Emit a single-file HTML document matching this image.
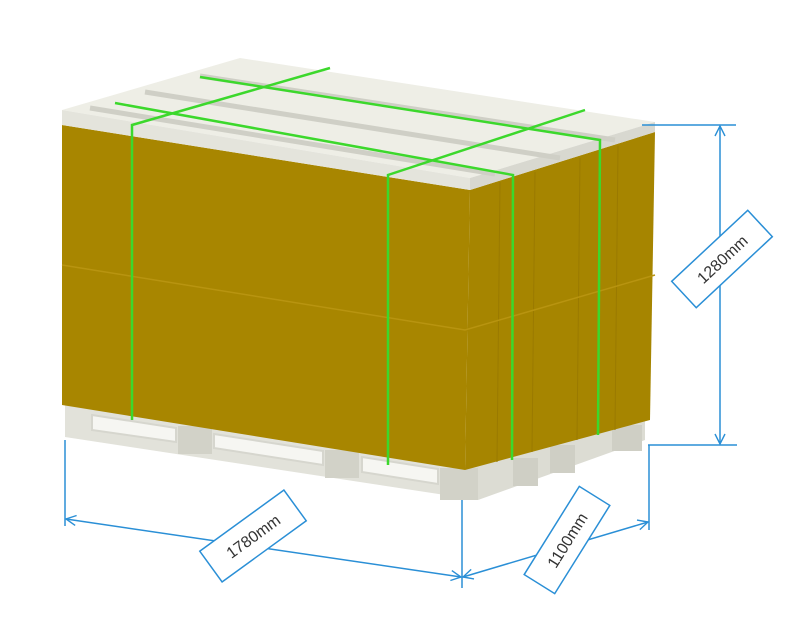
<!DOCTYPE html>
<html><head><meta charset="utf-8"><style>
html,body{margin:0;padding:0;background:#fff;width:800px;height:620px;overflow:hidden}
svg{display:block}
text{font-family:"Liberation Sans",sans-serif;font-size:16px;fill:#333}
</style></head><body>
<svg width="800" height="620" viewBox="0 0 800 620" xmlns="http://www.w3.org/2000/svg">
<defs>
<marker id="a" viewBox="0 0 12 12" refX="11" refY="6" markerWidth="12" markerHeight="12" markerUnits="userSpaceOnUse" orient="auto-start-reverse">
<path d="M1,1 L11,6 L1,11" fill="none" stroke="#2a8fd6" stroke-width="1.4"/></marker>
</defs>
<!-- pallet -->
<polygon points="65,400 465,465 478,470 478,500 65,437" fill="#e2e2da"/>
<polygon points="465,470 645,415 645,440 478,500" fill="#dcdcd3"/>
<polygon points="92,415 176,428 176,442 92,430" fill="#f6f6f2" stroke="#d6d6ce" stroke-width="2"/>
<polygon points="214,434 323,451 323,465 214,448" fill="#f6f6f2" stroke="#d6d6ce" stroke-width="2"/>
<polygon points="362,457 438,469 438,484 362,472" fill="#f6f6f2" stroke="#d6d6ce" stroke-width="2"/>
<rect x="178" y="426" width="34" height="28" fill="#d2d2c8"/>
<rect x="325" y="450" width="34" height="28" fill="#d2d2c8"/>
<rect x="440" y="468" width="38" height="32" fill="#d2d2c8"/>
<rect x="513" y="458" width="25" height="28" fill="#cfcfc5"/>
<rect x="550" y="445" width="25" height="28" fill="#cfcfc5"/>
<rect x="612" y="425" width="30" height="26" fill="#cfcfc5"/>
<!-- box -->
<polygon points="62,125 470,190 465,470 62,405" fill="#a88600"/>
<polygon points="470,190 655,132 650,420 465,470" fill="#a68500"/>
<g stroke="#9a7a00" stroke-width="1">
<line x1="500" y1="182" x2="497" y2="462"/><line x1="535" y1="172" x2="532" y2="452"/>
<line x1="580" y1="158" x2="577" y2="440"/><line x1="618" y1="146" x2="615" y2="430"/>
</g>
<polyline points="62,265 465,330 655,275" fill="none" stroke="#b89410" stroke-width="1.5"/>
<!-- cap -->
<polygon points="62,110 240,58 655,122 470,178" fill="#eeeee6"/>
<polygon points="62,110 470,178 470,190 62,125" fill="#e4e4dc"/>
<polygon points="470,178 655,122 655,132 470,190" fill="#d8d8d0"/>
<g stroke="#cfcfc6" stroke-width="5">
<line x1="90" y1="108" x2="495" y2="174"/><line x1="145" y1="92" x2="560" y2="158"/>
<line x1="200" y1="76" x2="615" y2="140"/>
</g>
<!-- straps -->
<g stroke="#3cd82c" stroke-width="2.5" fill="none">
<polyline points="132,420 132,125 330,68"/>
<polyline points="388,465 388,175 585,110"/>
<polyline points="115,103 513,175 512,460"/>
<polyline points="200,77 600,140 598,435"/>
</g>
<!-- dims -->
<g stroke="#2a8fd6" stroke-width="1.5" fill="none">
<line x1="642" y1="125" x2="736" y2="125"/>
<line x1="648" y1="445" x2="737" y2="445"/>
<line x1="720" y1="126" x2="720" y2="444" marker-start="url(#a)" marker-end="url(#a)"/>
<line x1="65" y1="440" x2="65" y2="526"/>
<line x1="462" y1="500" x2="462" y2="588"/>
<line x1="649" y1="445" x2="649" y2="530"/>
<line x1="66" y1="519" x2="461" y2="577" marker-start="url(#a)" marker-end="url(#a)"/>
<line x1="463" y1="577" x2="648" y2="522" marker-start="url(#a)" marker-end="url(#a)"/>
</g>
<g transform="translate(722,259) rotate(-43)">
<rect x="-52" y="-18" width="104" height="36" fill="#fff" stroke="#2a8fd6" stroke-width="1.5"/>
<text x="0" y="6" text-anchor="middle">1280mm</text></g>
<g transform="translate(253,536) rotate(-36)">
<rect x="-52" y="-19" width="104" height="38" fill="#fff" stroke="#2a8fd6" stroke-width="1.5"/>
<text x="0" y="6" text-anchor="middle">1780mm</text></g>
<g transform="translate(567,540) rotate(-58)">
<rect x="-52" y="-18" width="104" height="36" fill="#fff" stroke="#2a8fd6" stroke-width="1.5"/>
<text x="0" y="6" text-anchor="middle">1100mm</text></g>
</svg>
</body></html>
